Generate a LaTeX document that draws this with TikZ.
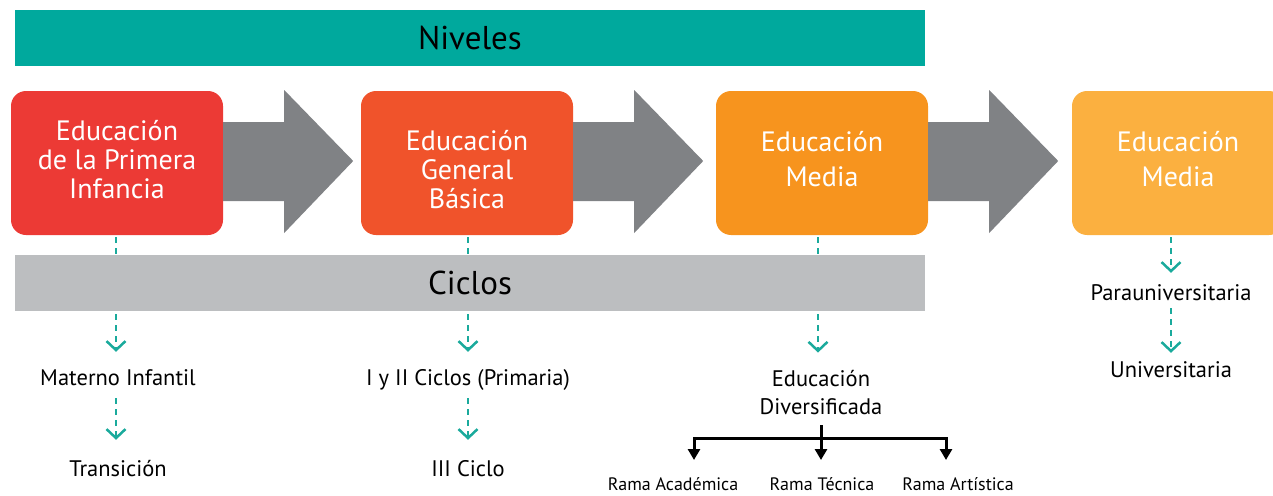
\documentclass[tikz,border=0pt]{standalone}
\usepackage{fontspec}
\setmainfont{PT Sans}
\usetikzlibrary{arrows.meta}
\definecolor{nivTeal}{HTML}{00A99D}
\definecolor{dashTeal}{HTML}{1AAA9C}
\definecolor{boxA}{HTML}{EC3A35}
\definecolor{boxB}{HTML}{F0532B}
\definecolor{boxC}{HTML}{F7941E}
\definecolor{boxD}{HTML}{FBB040}
\definecolor{arrGray}{HTML}{808285}
\definecolor{cicGray}{HTML}{BCBEC0}
\newcommand{\shiftdown}[2]{\raisebox{-#1}[\height][\depth]{#2}}
\begin{document}
\begin{tikzpicture}[x=1pt,y=-1pt,
  levelbox/.style={fill=#1, rounded corners=15pt, minimum width=212pt, minimum height=144pt,
    inner sep=0pt, text=white, font=\fontsize{28}{29}\selectfont, align=center},
  bar/.style={fill=#1, minimum width=910pt, minimum height=56pt, inner sep=0pt,
    font=\fontsize{33}{38}\selectfont},
  lbl/.style={inner sep=0pt, font=\fontsize{22.5}{28}\selectfont, text height=16pt, text depth=5pt},
  mlbl/.style={inner sep=0pt, font=\fontsize{22.5}{28}\selectfont, align=center},
  slbl/.style={inner sep=0pt, font=\fontsize{18}{22}\selectfont, text height=13pt, text depth=4pt},
  dcon/.style={draw=dashTeal, line width=2.5pt, dash pattern=on 6pt off 5pt,
    -{Straight Barb[length=9pt,width=19pt,line width=2.5pt]}},
  tree/.style={draw=black, line width=3pt, line join=miter},
  treearr/.style={tree, -{Triangle[length=11pt,width=12pt]}}
]
\useasboundingbox (0,0) rectangle (1273,495);
\begin{scope}
\clip (0,0) rectangle (1273,495);

% top bar
\node[bar=nivTeal] (niv) at (470,38) {Niveles};

% level boxes
\node[levelbox=boxA] (b1) at (117,163) {\shiftdown{1pt}{\begin{tabular}{@{}c@{}}Educación\\de la Primera\\Infancia\end{tabular}}};
\node[levelbox=boxB] (b2) at (467,163) {\shiftdown{11pt}{\begin{tabular}{@{}c@{}}Educación\\General\\Básica\end{tabular}}};
\node[levelbox=boxC] (b3) at (822,163) {\fontsize{28}{35}\selectfont\shiftdown{-1pt}{\begin{tabular}{@{}c@{}}Educación\\Media\end{tabular}}};
\node[levelbox=boxD] (b4) at (1178,163) {\fontsize{28}{35}\selectfont\shiftdown{-1pt}{\begin{tabular}{@{}c@{}}Educación\\Media\end{tabular}}};

% block arrows between levels
\foreach \a in {b1,b2,b3}{
  \fill[arrGray] (\a.east) ++(0,-41) -- ++(61,0) -- ++(0,-32) -- ++(69,71) -- ++(-69,72) -- ++(0,-32) -- ++(-61,0) -- cycle;
}

% text labels
\node[lbl] (mi) at (118,380) {Materno Infantil};
\node[lbl] (tr) at (118,471) {Transición};
\node[lbl] (ic) at (468,380) {I y II Ciclos (Primaria)};
\node[lbl] (iii) at (468,471) {III Ciclo};
\node[mlbl] (ed) at (821,393) {Educación\\Diversificada};
\node[lbl] (pu) at (1171,295) {Parauniversitaria};
\node[lbl] (un) at (1171,372) {Universitaria};
\node[slbl] (ra) at (673,486) {Rama Académica};
\node[slbl] (rt) at (822,486) {Rama Técnica};
\node[slbl] (rar) at (958,486) {Rama Artística};

% dashed connectors
\draw[dcon, shorten <=2pt, shorten >=17.5pt] ([xshift=-2pt]b1.south -| mi.north) -- ([xshift=-2pt]mi.north);
\draw[dcon, shorten <=7.5pt, shorten >=20.5pt] ([xshift=-2pt]mi.south) -- ([xshift=-2pt]tr.north);
\draw[dcon, shorten <=2pt, shorten >=17.5pt] (b2.south -| ic.north) -- (ic.north);
\draw[dcon, shorten <=7.5pt, shorten >=20.5pt] (ic.south) -- (iii.north);
\draw[dcon, shorten <=2pt, shorten >=18pt] ([xshift=-3pt]b3.south -| ed.north) -- ([xshift=-3pt]ed.north);
\draw[dcon, shorten <=2pt, shorten >=11.5pt] (b4.south -| pu.north) -- (pu.north);
\draw[dcon, shorten <=2.5pt, shorten >=8.5pt] (pu.south) -- (un.north);

% ciclos bar (covers the dashed lines)
\node[bar=cicGray] (cic) at (470,283) {Ciclos};

% tree of branches
\coordinate (fork) at (821,438);
\coordinate (fl) at (694,438);
\coordinate (fr) at (946,438);
\coordinate (ta) at (694,460);
\coordinate (tm) at (821,460);
\coordinate (tb) at (946,460);
\draw[tree, shorten <=10pt] (ed.south) -- (fork);
\draw[tree, {Triangle[length=11pt,width=12pt]}-{Triangle[length=11pt,width=12pt]}] (ta) -- (fl) -- (fr) -- (tb);
\draw[treearr] (fork) -- (tm);
\end{scope}
\end{tikzpicture}
\end{document}
